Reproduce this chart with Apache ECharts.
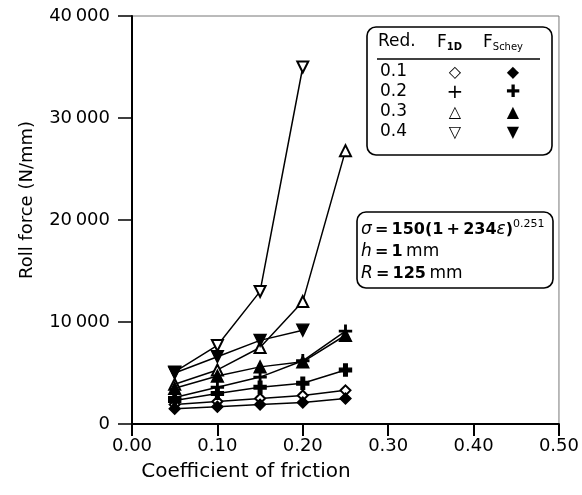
<!DOCTYPE html>
<html><head><meta charset="utf-8">
<script src="https://cdn.jsdelivr.net/npm/echarts@6/dist/echarts.min.js"></script>
<style>html,body{margin:0;padding:0;background:#fff}#c{width:582px;height:495px}</style>
</head><body><div id="c"></div>
<script>
const friction = [0.05, 0.10, 0.15, 0.20, 0.25];
const f1d_01 = [1900, 2200, 2500, 2800, 3300];
const f1d_02 = [2600, 3600, 4600, 6200, 9100];
const f1d_03 = [3900, 5300, 7500, 12000, 26800];
const f1d_04 = [5100, 7700, 13000, 35000];
const schey_01 = [1500, 1700, 1900, 2100, 2500];
const schey_02 = [2300, 3000, 3600, 4000, 5300];
const schey_03 = [3500, 4700, 5600, 6100, 8700];
const schey_04 = [5000, 6600, 8200, 9200];
const yTickLabels = ['0', '10\u2009000', '20\u2009000', '30\u2009000', '40\u2009000'];
const xTickLabels = ['0.00', '0.10', '0.20', '0.30', '0.40', '0.50'];
const reductions = ['0.1', '0.2', '0.3', '0.4'];

const FONT = '"DejaVu Sans", "Liberation Sans", Arial, sans-serif';
const thinCross = 'path://M4.4,0h1.2v10h-1.2zM0,4.4h10v1.2h-10z';
const boldCross = 'path://M3.5,0h3v10h-3zM0,3.5h10v3h-10z';

function pts(arr){ return arr.map((v,i)=>[friction[i], v]); }
function ser(name, arr, symbol, size, rotate){
  return {
    name, type:'line', data: pts(arr), symbol, symbolSize:size, symbolRotate: rotate||0,
    lineStyle:{color:'#000', width:1.5}, itemStyle:{color:'#000', borderColor:'#000', borderWidth:1.4},
    animation:false, z:3
  };
}
const series = [
  ser('F1D 0.1', f1d_01, 'emptyDiamond', 10),
  ser('F1D 0.2', f1d_02, thinCross, 12),
  ser('F1D 0.3', f1d_03, 'emptyTriangle', 11),
  ser('F1D 0.4', f1d_04, 'emptyTriangle', 11, 180),
  ser('Schey 0.1', schey_01, 'diamond', 11),
  ser('Schey 0.2', schey_02, boldCross, 12),
  ser('Schey 0.3', schey_03, 'triangle', 12),
  ser('Schey 0.4', schey_04, 'triangle', 12, 180),
];

const chart = echarts.init(document.getElementById('c'), null, {renderer:'canvas'});
const legendSym = ['\u25C7','+','\u25B3','\u25BD'];
const legendSymF = ['\u25C6','\u271A','\u25B2','\u25BC'];
const graphics = [
  {type:'rect', shape:{x:367, y:27, width:185, height:128, r:9}, style:{fill:'#fff', stroke:'#000', lineWidth:1.6}, z:10},
  {type:'text', x:378, y:33, style:{text:'Red.', font:'17px '+FONT, fill:'#000'}, z:11},
  {type:'text', x:437, y:33, style:{rich:{a:{font:'17px '+FONT}, s:{font:'bold 10px '+FONT, padding:[9,0,0,0]}}, text:'{a|F}{s|1D}', fill:'#000'}, z:11},
  {type:'text', x:483, y:33, style:{rich:{a:{font:'17px '+FONT}, s:{font:'10px '+FONT, padding:[9,0,0,0]}}, text:'{a|F}{s|Schey}', fill:'#000'}, z:11},
  {type:'line', shape:{x1:377, y1:59, x2:540, y2:59}, style:{stroke:'#000', lineWidth:1.5}, z:11},
  {type:'line', shape:{x1:132, y1:424, x2:132, y2:436}, style:{stroke:'#000', lineWidth:2}, z:11},
  {type:'text', x:246, y:472, style:{text:'Coefficient of friction', font:'20px '+FONT, fill:'#000', align:'center', verticalAlign:'middle'}, z:11},
  {type:'text', x:27, y:200, rotation:Math.PI/2, style:{text:'Roll force (N/mm)', font:'18px '+FONT, fill:'#000', align:'center', verticalAlign:'middle'}, z:11},
];
reductions.forEach((r,i)=>{
  const y = 72 + i*20;
  graphics.push({type:'text', x:380, y, style:{text:r, font:'17px '+FONT, fill:'#000', verticalAlign:'middle'}, z:11});
  graphics.push({type:'text', x:455, y:y+1, style:{text:legendSym[i], font:(i===1?'20px ':'16px ')+FONT, fill:'#000', align:'center', verticalAlign:'middle'}, z:11});
  graphics.push({type:'text', x:513, y:y+1, style:{text:legendSymF[i], font:(i===1?'17px ':'16px ')+FONT, fill:'#000', align:'center', verticalAlign:'middle'}, z:11});
});
graphics.push({type:'rect', shape:{x:357, y:212, width:196, height:76, r:9}, style:{fill:'#fff', stroke:'#000', lineWidth:1.6}, z:10});
graphics.push({type:'text', x:361, y:219, z:11, style:{
  text:'{i|\u03C3}{b|\u2009=\u2009150(1\u2009+\u2009234}{i|\u03B5}{b|)}{s|0.251}\n{i|h}{b|\u2009=\u20091}{n|\u2009mm}\n{i|R}{b|\u2009=\u2009125}{n|\u2009mm}',
  rich:{i:{font:'italic 17px '+FONT, lineHeight:22}, b:{font:'bold 16px '+FONT, lineHeight:22},
        n:{font:'17px '+FONT, lineHeight:22}, s:{font:'11px '+FONT, padding:[0,0,12,0], lineHeight:22}},
  fill:'#000'}});

chart.setOption({
  backgroundColor:'#fff',
  animation:false,
  grid:{left:132, right:22, top:16, bottom:71, show:true, borderColor:'#777', borderWidth:1},
  xAxis:{type:'value', min:0, max:0.5, interval:0.1,
    axisLine:{show:true, onZero:false, lineStyle:{color:'#000', width:2}},
    axisTick:{show:true, length:12, lineStyle:{color:'#000', width:2}},
    axisLabel:{fontSize:18, fontFamily:FONT, color:'#000', margin:13, formatter:(v)=>xTickLabels[Math.round(v*10)]},
    splitLine:{show:false}},
  yAxis:{type:'value', min:0, max:40000, interval:10000,
    axisLine:{show:true, lineStyle:{color:'#000', width:2}},
    axisTick:{show:true, length:14, lineStyle:{color:'#000', width:1.5}},
    axisLabel:{fontSize:18, fontFamily:FONT, color:'#000', margin:22, formatter:(v)=>yTickLabels[Math.round(v/10000)]},
    splitLine:{show:false}},
  series,
  graphic: graphics
});
</script></body></html>
